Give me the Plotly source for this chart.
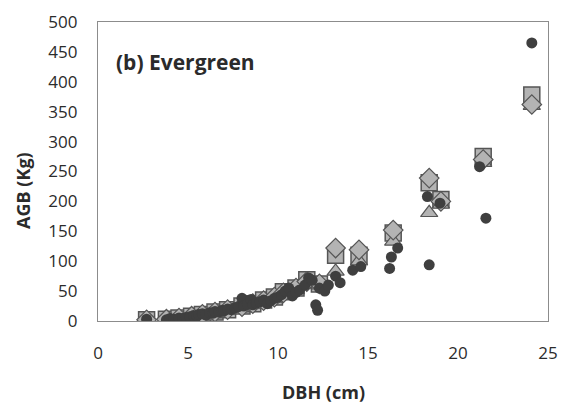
import plotly.graph_objects as go

# Observed trees: DBH (cm) and measured AGB (Kg)
obs_dbh = [2.7, 3.8, 4.0, 4.2, 4.5, 4.7, 4.9, 5.1, 5.3, 5.5, 5.6, 5.8, 6.0, 6.2, 6.4,
           6.5, 6.7, 6.9, 7.0, 7.2, 7.4, 7.6, 7.8, 8.0, 8.1, 8.3, 8.5, 8.6, 8.8, 9.0,
           9.2, 9.4, 9.6, 9.8, 10.0, 10.2, 10.4, 10.6, 10.8, 11.0, 11.2, 11.5, 11.7,
           11.9, 12.1, 12.2, 12.3, 12.6, 12.8, 13.2, 13.45, 14.15, 14.6, 16.2, 16.3,
           16.65, 18.3, 18.4, 19.0, 21.2, 21.55, 24.1]
obs_agb = [3, 2, 4, 3, 5, 4, 6, 7, 9, 8, 11, 12, 10, 14, 13,
           16, 15, 18, 17, 20, 19, 22, 24, 38, 25, 28, 36, 27, 30, 32,
           35, 29, 34, 38, 40, 44, 50, 55, 42, 48, 52, 60, 72,
           68, 27, 18, 55, 50, 60, 75, 64, 85, 91, 88, 107,
           122, 208, 94, 197, 258, 172, 465]

# Model predictions
pred_dbh = [2.7, 3.8, 4.5, 5.2, 5.8, 6.5, 7.2, 8.0, 8.6, 9.2, 9.8, 10.3, 11.0, 11.6,
            12.3, 13.2, 14.5, 16.4, 18.4, 19.05, 21.4, 24.1]
pred_square = [2, 3, 5, 8, 11, 15, 19, 25, 29, 35, 40, 49, 55, 69,
               62, 110, 110, 147, 231, 203, 275, 378]
pred_triangle = [2, 3, 5, 7, 10, 14, 18, 23, 28, 33, 38, 45, 52, 63,
                 60, 83, 100, 133, 181, 195, 265, 360]
pred_diamond = [2, 3, 5, 8, 11, 15, 19, 24, 29, 34, 40, 47, 55, 66,
                62, 122, 119, 152, 239, 200, 270, 362]

x_ticks = [0, 5, 10, 15, 20, 25]
y_ticks = [0, 50, 100, 150, 200, 250, 300, 350, 400, 450, 500]

gray_fill = "#b3b3b3"
outline = "#555555"
dark = "#3f3f3f"
text_color = "#2b2b2b"

fig = go.Figure()
fig.add_trace(go.Scatter(x=pred_dbh, y=pred_square, mode="markers",
                         marker=dict(symbol="square", size=16, color=gray_fill,
                                     line=dict(color=outline, width=1.5))))
fig.add_trace(go.Scatter(x=pred_dbh, y=pred_triangle, mode="markers",
                         marker=dict(symbol="triangle-up", size=15, color=gray_fill,
                                     line=dict(color=outline, width=1.2))))
fig.add_trace(go.Scatter(x=pred_dbh, y=pred_diamond, mode="markers",
                         marker=dict(symbol="diamond", size=15, color=gray_fill,
                                     line=dict(color=outline, width=1.2))))
fig.add_trace(go.Scatter(x=obs_dbh, y=obs_agb, mode="markers",
                         marker=dict(symbol="circle", size=11, color=dark,
                                     line=dict(color=dark, width=0))))

font_family = "Open Sans, Carlito, Calibri, sans-serif"
fig.update_layout(
    width=563, height=406,
    margin=dict(l=98, r=15, t=22, b=85),
    paper_bgcolor="white", plot_bgcolor="white",
    showlegend=False,
    hovermode=False,
    font=dict(family=font_family, size=17, color=text_color),
    xaxis=dict(range=[0, 25], tickvals=x_ticks, showgrid=False, zeroline=False,
               showline=True, linecolor="#8c8c8c", linewidth=1.2, mirror=True,
               ticks="", ticklabelstandoff=16, automargin=False),
    yaxis=dict(range=[0, 500], tickvals=y_ticks, showgrid=False, zeroline=False,
               showline=True, linecolor="#8c8c8c", linewidth=1.2, mirror=True,
               ticks="", ticklabelstandoff=16, automargin=False),
    annotations=[
        dict(text="<b>(b) Evergreen</b>", xref="paper", yref="paper",
             x=0.036, y=0.866, xanchor="left", yanchor="middle",
             showarrow=False, font=dict(size=21, color=text_color)),
        dict(text="<b>DBH (cm)</b>", xref="paper", yref="paper",
             x=0.5, y=-0.237, xanchor="center", yanchor="middle",
             showarrow=False, font=dict(size=18, color=text_color)),
        dict(text="<b>AGB (Kg)</b>", xref="paper", yref="paper",
             x=-0.167, y=0.438, xanchor="center", yanchor="middle", textangle=-90,
             showarrow=False, font=dict(size=18, color=text_color)),
    ],
)

fig.write_html("out.html",
               config={"displayModeBar": False, "staticPlot": True},
               post_script="document.body.style.margin='0';document.body.style.overflow='hidden';")
